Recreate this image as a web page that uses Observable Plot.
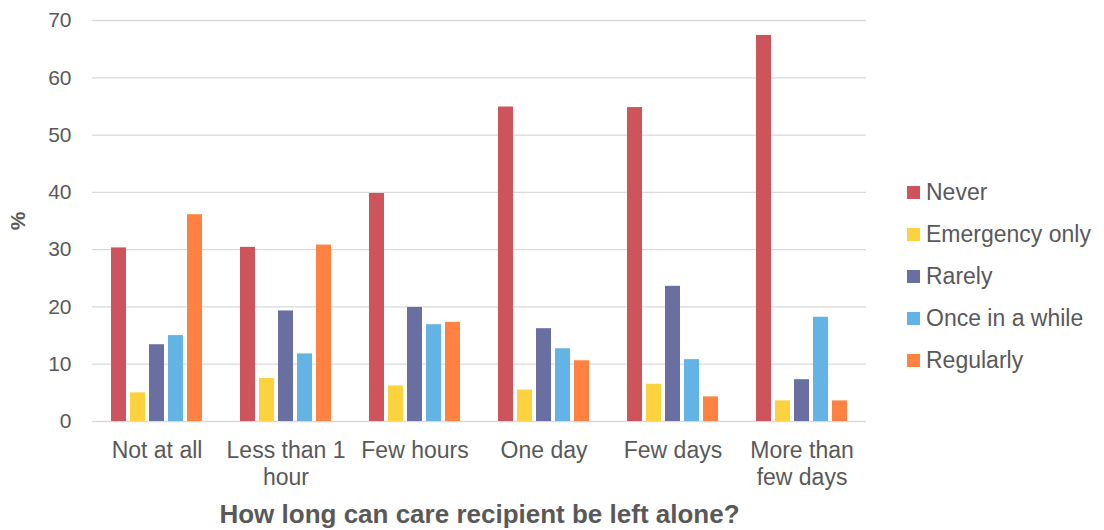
<!DOCTYPE html>
<html>
<head>
<meta charset="utf-8">
<script src="https://cdn.jsdelivr.net/npm/d3@7"></script>
<script src="https://cdn.jsdelivr.net/npm/@observablehq/plot@0.6"></script>
<style>
  html, body { margin: 0; padding: 0; background: #fff; }
  #wrap { position: relative; width: 1104px; height: 530px; }
  g[aria-label="y-axis label"] text, g[aria-label="fx-axis label"] text { font-weight: bold; }
  #legend { position: absolute; left: 907px; top: 171px; font-family: "Liberation Sans", Arial, sans-serif; font-size: 23px; color: #595959; }
  #legend .row { display: flex; align-items: center; height: 42px; }
  #legend .sw { width: 13px; height: 13px; margin-right: 6px; flex: none; }
</style>
</head>
<body>
<div id="wrap"><div id="chart"></div><div id="legend"></div></div>
<script>
const categories = ["Not at all", "Less than 1 hour", "Few hours", "One day", "Few days", "More than few days"];
const tickLabels = ["Not at all", "Less than 1\nhour", "Few hours", "One day", "Few days", "More than\nfew days"];
const series = ["Never", "Emergency only", "Rarely", "Once in a while", "Regularly"];
const never = [30.3, 30.4, 39.8, 54.9, 54.8, 67.4];
const emergencyOnly = [5.0, 7.5, 6.2, 5.5, 6.5, 3.6];
const rarely = [13.4, 19.3, 19.9, 16.2, 23.6, 7.3];
const onceInAWhile = [15.0, 11.8, 16.9, 12.7, 10.8, 18.2];
const regularly = [36.1, 30.8, 17.3, 10.6, 4.3, 3.6];
const colors = ["#cd545b", "#fdd23f", "#6a6fa1", "#63b4e4", "#ff8243"];
const yTicks = [0, 10, 20, 30, 40, 50, 60, 70];

const seriesValues = [never, emergencyOnly, rarely, onceInAWhile, regularly];
const data = [];
categories.forEach((c, i) => {
  series.forEach((s, j) => data.push({category: c, series: s, value: seriesValues[j][i]}));
});

const chart = Plot.plot({
  width: 1104,
  height: 530,
  marginLeft: 91,
  marginRight: 237,
  marginTop: 20,
  marginBottom: 109,
  style: {fontFamily: "'Liberation Sans', Arial, sans-serif", fontSize: "21px", color: "#595959", background: "#fff"},
  fx: {domain: categories, padding: 0},
  x: {domain: series, paddingInner: 0.2, paddingOuter: 0.83, axis: null},
  y: {domain: [0, 70]},
  color: {domain: series, range: colors},
  marks: [
    Plot.gridY(yTicks, {stroke: "#d9d9d9", strokeOpacity: 1, strokeWidth: 1.3}),
    Plot.axisY(yTicks, {tickSize: 0, tickPadding: 21, label: "%", labelAnchor: "center", labelArrow: "none", labelOffset: 82, fontSize: 21}),
    Plot.axisFx({anchor: "bottom", label: null, tickSize: 0, tickPadding: 18, tickFormat: (d) => tickLabels[categories.indexOf(d)], lineHeight: 1.16, fontSize: 23}),
    Plot.axisFx({anchor: "bottom", ticks: [], label: "How long can care recipient be left alone?", labelAnchor: "center", labelArrow: "none", labelOffset: 101, fontSize: 26}),
    Plot.barY(data, {fx: "category", x: "series", y: "value", fill: "series"})
  ]
});
document.getElementById("chart").appendChild(chart);

const legend = document.getElementById("legend");
series.forEach((s, j) => {
  const row = document.createElement("div");
  row.className = "row";
  const sw = document.createElement("div");
  sw.className = "sw";
  sw.style.background = colors[j];
  const t = document.createElement("span");
  t.textContent = s;
  row.appendChild(sw);
  row.appendChild(t);
  legend.appendChild(row);
});
</script>
</body>
</html>
